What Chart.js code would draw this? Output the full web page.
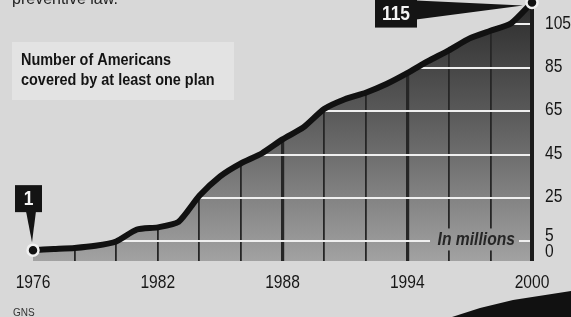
<!DOCTYPE html>
<html>
<head>
<meta charset="utf-8">
<script src="https://cdn.jsdelivr.net/npm/chart.js@4"></script>
<style>
  html, body { margin: 0; padding: 0; background: #d8d8d8; }
  #wrap { position: relative; width: 571px; height: 317px; overflow: hidden; }
  #edge { position: absolute; left: 0; top: 0; width: 571px; height: 317px; background: #111;
    clip-path: polygon(452px 317px, 480px 308px, 513px 300px, 571px 291px, 571px 317px); }
</style>
</head>
<body>
<div id="wrap">
  <canvas id="chart" width="571" height="317"></canvas>
  <div id="edge"></div>
</div>
<script>
const years = [1976, 1977, 1978, 1979, 1980, 1981, 1982, 1983, 1984, 1985, 1986, 1987, 1988,
  1989, 1990, 1991, 1992, 1993, 1994, 1995, 1996, 1997, 1998, 1999, 2000];
const covered = [1, 1.5, 2, 3, 5, 10.5, 11.5, 14, 26, 35, 41, 45.5, 52,
  57.5, 66, 70.5, 73.5, 77.5, 82.5, 88, 93, 98.5, 102, 105.5, 115];
const yTicks = [0, 5, 25, 45, 65, 85, 105];
const yearLabels = [1976, 1982, 1988, 1994, 2000];
const thickYears = [1988, 1994];
const titleLines = ["Number of Americans", "covered by at least one plan"];
const unitLabel = "In millions";
const topNote = "preventive law.";
const source = "GNS";

const sans = "'Liberation Sans', Arial, sans-serif";
const paper = "#d8d8d8";
let areaFill = null;

// condensed look: Liberation Sans squeezed sideways
function narrowText(ctx, text, x, y, squeeze, align) {
  ctx.save();
  ctx.translate(x, y);
  ctx.scale(squeeze, 1);
  ctx.textAlign = align || "left";
  ctx.fillText(text, 0, 0);
  ctx.restore();
}

const backdrop = {
  id: "backdrop",
  beforeDraw(chart) {
    const { ctx, chartArea: a } = chart;
    ctx.save();
    ctx.fillStyle = paper;
    ctx.fillRect(0, 0, chart.width, chart.height);
    areaFill = ctx.createLinearGradient(0, a.bottom, 0, a.top);
    areaFill.addColorStop(0, "#a2a2a2");
    areaFill.addColorStop(0.4, "#707070");
    areaFill.addColorStop(0.6, "#585858");
    areaFill.addColorStop(1, "#2e2e2e");
    ctx.fillStyle = areaFill;
    ctx.fillRect(a.left, a.top, a.right - a.left, a.bottom - a.top);
    ctx.restore();
  },
  beforeDatasetsDraw(chart) {
    const { ctx, chartArea: a, scales } = chart;
    const x2000 = scales.x.getPixelForValue(years[years.length - 1]);
    ctx.save();
    ctx.strokeStyle = "#1c1c1c";
    ctx.lineWidth = 4;
    ctx.beginPath();
    ctx.moveTo(x2000, 0);
    ctx.lineTo(x2000, a.bottom);
    ctx.stroke();
    // unit label on its own patch of fill
    const yb = scales.y.getPixelForValue(5);
    ctx.fillStyle = areaFill;
    ctx.fillRect(a.right - 102, yb - 13, 89, 22);
    ctx.font = "italic bold 18px " + sans;
    ctx.fillStyle = "#262626";
    ctx.textBaseline = "alphabetic";
    narrowText(ctx, unitLabel, a.right - 17, yb + 4, 0.87, "right");
    ctx.restore();
  },
  afterDatasetsDraw(chart) {
    const { ctx } = chart;
    const pts = chart.getDatasetMeta(0).data;
    const first = pts[0], last = pts[pts.length - 1];
    ctx.save();
    ctx.fillStyle = "#141414";
    // "1" callout
    ctx.fillRect(first.x - 18, first.y - 65, 27, 27);
    ctx.beginPath();
    ctx.moveTo(first.x - 7, first.y - 39);
    ctx.lineTo(first.x + 3, first.y - 39);
    ctx.lineTo(first.x - 1, first.y - 8);
    ctx.closePath();
    ctx.fill();
    // "115" callout
    ctx.fillRect(last.x - 157, last.y - 8, 42, 33);
    ctx.beginPath();
    ctx.moveTo(last.x - 116, last.y - 2);
    ctx.lineTo(last.x - 116, last.y + 17);
    ctx.lineTo(last.x - 9, last.y + 3);
    ctx.closePath();
    ctx.fill();
    ctx.fillStyle = "#f4f4f4";
    ctx.font = "bold 21px " + sans;
    ctx.textBaseline = "middle";
    narrowText(ctx, String(covered[0]), first.x - 4.5, first.y - 51, 0.83, "center");
    narrowText(ctx, String(covered[covered.length - 1]), last.x - 136, last.y + 12, 0.83, "center");
    ctx.restore();
  },
  afterDraw(chart) {
    const { ctx, chartArea: a, scales } = chart;
    ctx.save();
    // axis labels
    ctx.fillStyle = "#161616";
    ctx.font = "19px " + sans;
    ctx.textBaseline = "alphabetic";
    yearLabels.forEach((yr) => {
      narrowText(ctx, String(yr), scales.x.getPixelForValue(yr), a.bottom + 27, 0.82, "center");
    });
    ctx.textBaseline = "middle";
    yTicks.forEach((v) => {
      const lift = v === 5 ? 6 : 1;
      narrowText(ctx, String(v), a.right + 13, scales.y.getPixelForValue(v) - lift, 0.82, "left");
    });
    // key box
    ctx.fillStyle = "#e3e3e3";
    ctx.fillRect(12, 42, 222, 58);
    ctx.fillStyle = "#141414";
    ctx.font = "bold 17px " + sans;
    ctx.textBaseline = "alphabetic";
    narrowText(ctx, titleLines[0], 21, 65, 0.85);
    narrowText(ctx, titleLines[1], 21, 85, 0.85);
    ctx.font = "16px " + sans;
    ctx.fillStyle = "#222";
    ctx.fillText(topNote, 12, 4);
    ctx.font = "10px " + sans;
    ctx.fillStyle = "#333";
    ctx.fillText(source, 13, 316);
    ctx.restore();
  },
};

new Chart(document.getElementById("chart"), {
  type: "line",
  data: {
    datasets: [{
      data: years.map((yr, i) => ({ x: yr, y: covered[i] })),
      borderColor: "#111",
      borderWidth: 6,
      borderJoinStyle: "round",
      borderCapStyle: "round",
      tension: 0.2,
      fill: "end",
      backgroundColor: paper,
      clip: false,
      pointRadius: (c) => (c.dataIndex === 0 || c.dataIndex === years.length - 1 ? 5.5 : 0),
      pointBorderWidth: 2.5,
      pointBorderColor: "#f0f0f0",
      pointBackgroundColor: "#111",
    }],
  },
  options: {
    responsive: false,
    animation: false,
    events: [],
    layout: { padding: { left: 33, right: 0, top: 0, bottom: 25 } },
    plugins: { legend: { display: false }, tooltip: { enabled: false } },
    scales: {
      x: {
        type: "linear",
        min: years[0],
        max: years[years.length - 1],
        afterBuildTicks: (axis) => {
          axis.ticks = years.filter((yr) => (yr - years[0]) % 2 === 0).map((v) => ({ value: v }));
        },
        afterFit: (axis) => { axis.height = 31; },
        border: { display: false },
        grid: {
          drawTicks: false,
          color: (c) => (c.tick && (c.tick.value === years[0] || c.tick.value === 2000) ? "rgba(0,0,0,0)" : "#262626"),
          lineWidth: (c) => (c.tick && thickYears.includes(c.tick.value) ? 3.2 : 1.8),
        },
        ticks: { display: false },
      },
      y: {
        position: "right",
        min: -4,
        max: 112.5,
        afterBuildTicks: (axis) => {
          axis.ticks = yTicks.map((v) => ({ value: v }));
        },
        afterFit: (axis) => { axis.width = 39; },
        border: { display: false },
        grid: {
          drawTicks: false,
          color: (c) => (c.tick && c.tick.value === 0 ? "rgba(0,0,0,0)" : "#efefef"),
          lineWidth: 2,
        },
        ticks: { display: false },
      },
    },
  },
  plugins: [backdrop],
});
</script>
</body>
</html>
